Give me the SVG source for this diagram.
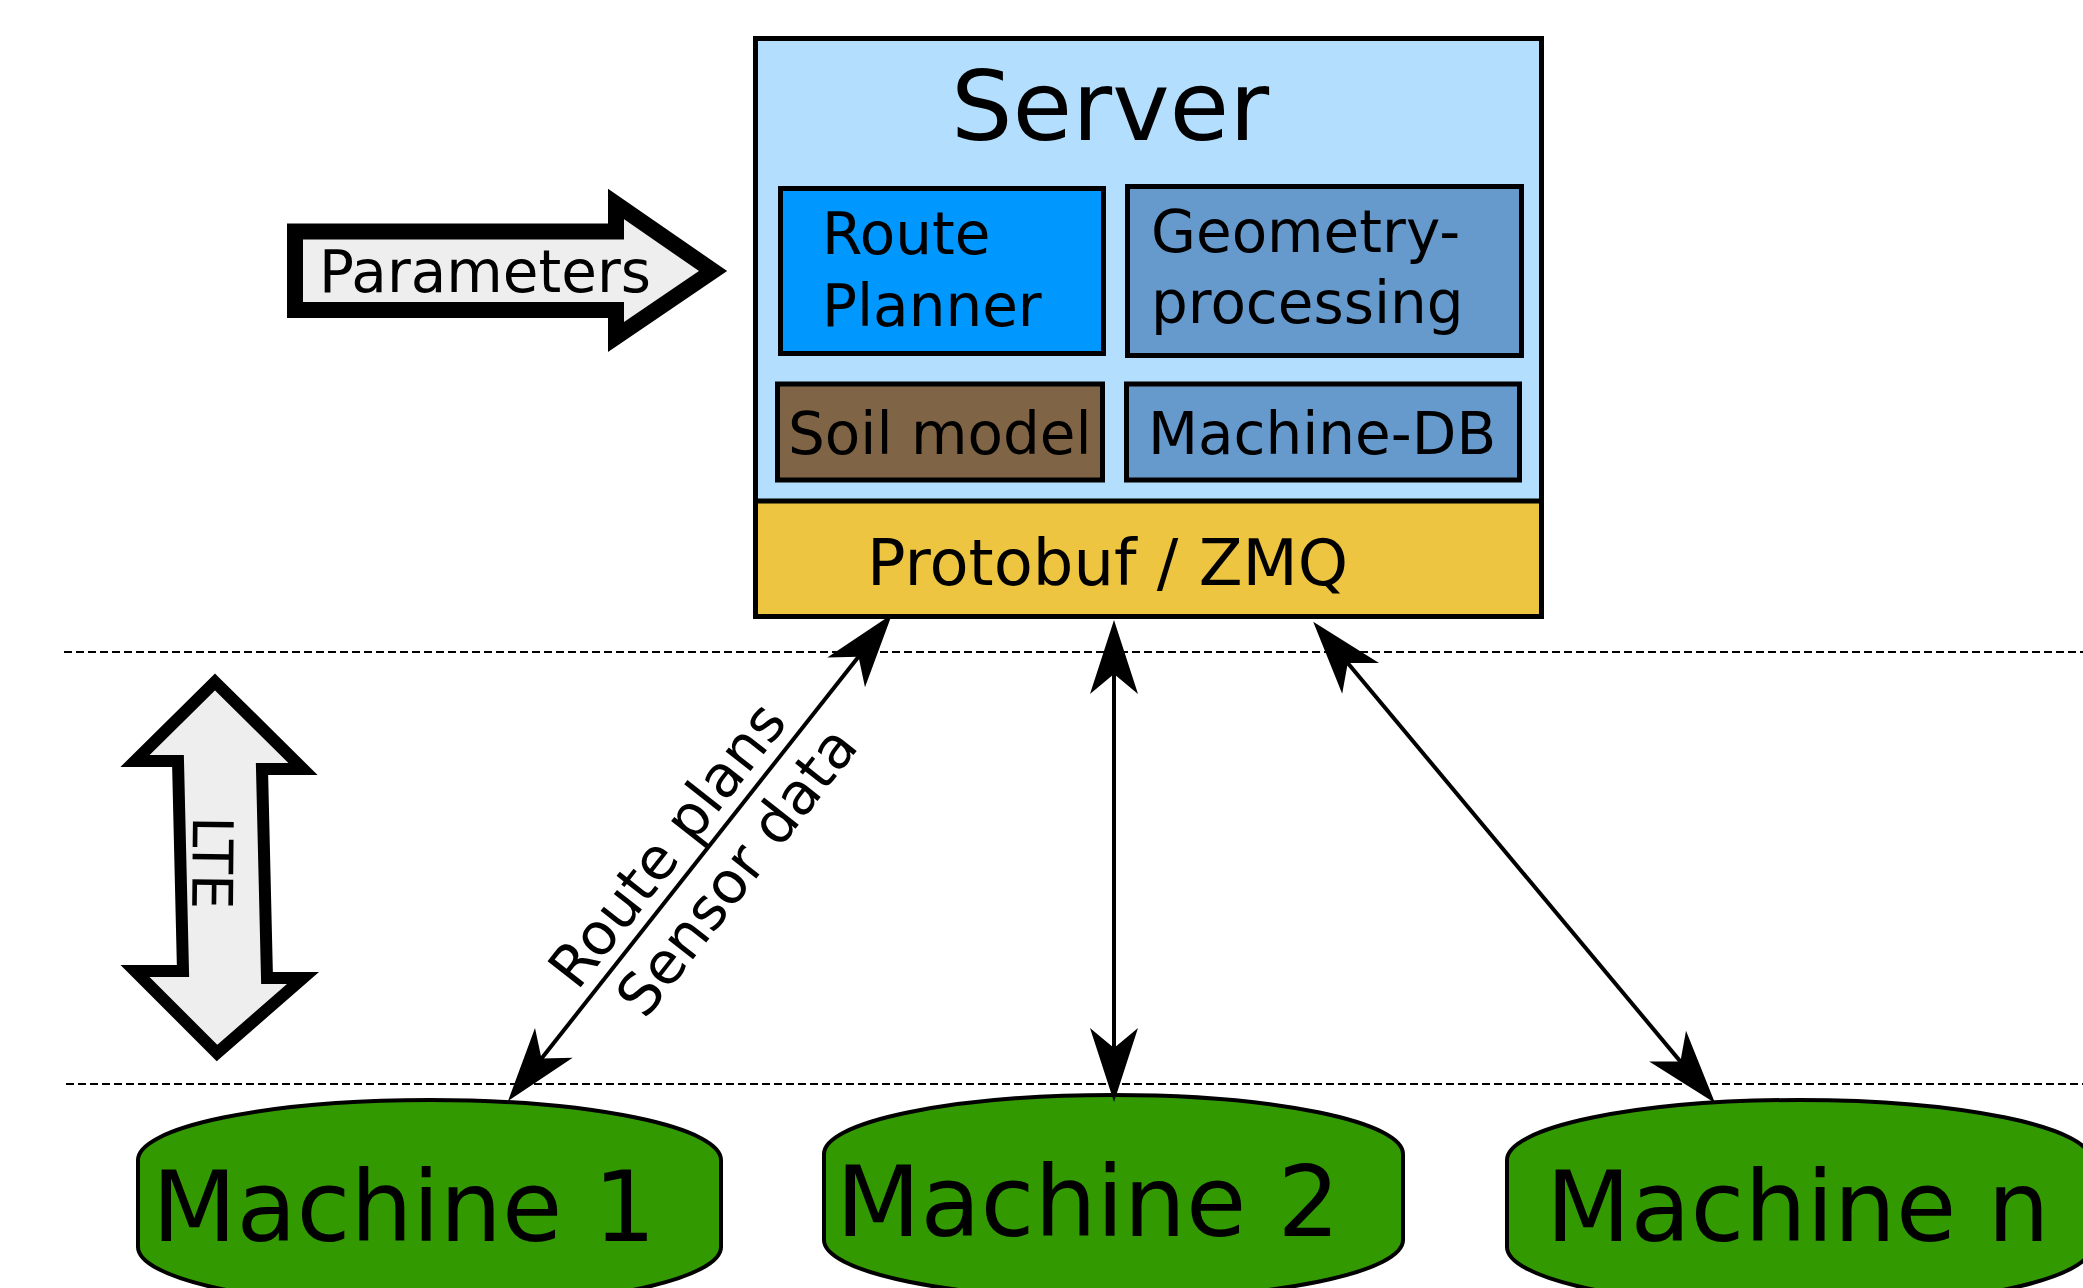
<svg xmlns="http://www.w3.org/2000/svg" width="2083" height="1288" viewBox="0 0 2083 1288">
<style>
  text { font-family: "DejaVu Sans", "Liberation Sans", sans-serif; fill: #000; }
  .box { stroke: #000; stroke-width: 5; }
  .t58 { font-size: 58px; }
  .machine { fill: #339900; stroke: #000; stroke-width: 4; }
  .mtext { font-size: 98px; }
  .bigarrow { fill: #eeeeee; stroke: #000; stroke-linejoin: miter; stroke-miterlimit: 10; }
  .dash { stroke: #000; stroke-width: 2; stroke-dasharray: 8 4; fill: none; }
  .conn { stroke: #000; stroke-width: 4; fill: none; marker-start: url(#ah); marker-end: url(#ah); }
</style>
<defs>
  <marker id="ah" viewBox="-60 -30 90 60" refX="0" refY="0" markerWidth="90" markerHeight="60" markerUnits="userSpaceOnUse" orient="auto-start-reverse">
    <path d="M20,0 L-54,-24 L-34,0 L-54,24 Z" fill="#000"/>
  </marker>
</defs>
<rect width="2083" height="1288" fill="#fff"/>

<g id="dividers">
  <line class="dash" x1="64" y1="652" x2="2083" y2="652"/>
  <line class="dash" x1="66" y1="1084" x2="2083" y2="1084"/>
</g>

<g id="server">
  <rect x="755.5" y="38.5" width="786" height="578" fill="#b3defd"/>
  <text x="951" y="140" font-size="97">Server</text>
</g>
<g id="protobuf">
  <rect x="755.5" y="501" width="786" height="115.5" fill="#edc540"/>
  <line x1="755.5" y1="501" x2="1541.5" y2="501" stroke="#000" stroke-width="5"/>
  <text x="867" y="585" font-size="64">Protobuf / ZMQ</text>
</g>
<rect x="755.5" y="38.5" width="786" height="578" fill="none" stroke="#000" stroke-width="5"/>

<g id="route-planner">
  <rect class="box" x="780.5" y="188.5" width="323" height="165" fill="#0097ff"/>
  <text class="t58" x="822" y="254">Route</text>
  <text class="t58" x="822" y="326">Planner</text>
</g>
<g id="geometry-processing">
  <rect class="box" x="1127.5" y="186.5" width="394" height="169" fill="#6699cc"/>
  <text class="t58" x="1151" y="252">Geometry-</text>
  <text class="t58" x="1151" y="323">processing</text>
</g>
<g id="soil-model">
  <rect class="box" x="777.5" y="384" width="325" height="96" fill="#7f6445"/>
  <text class="t58" x="788" y="454">Soil model</text>
</g>
<g id="machine-db">
  <rect class="box" x="1126.5" y="384" width="393" height="96" fill="#6699cc"/>
  <text class="t58" x="1148" y="454">Machine-DB</text>
</g>

<g id="parameters">
  <path class="bigarrow" stroke-width="16" d="M295,231.5 L616,231.5 L616,204 L713,271 L616,337 L616,310 L295,310 Z"/>
  <text class="t58" x="319" y="292">Parameters</text>
</g>

<g id="lte">
  <path class="bigarrow" stroke-width="12" d="M215,682 L303,769 L262,769 L267,978 L303,978 L217,1053 L135,971 L183,971 L178,761 L135,761 Z"/>
  <text transform="translate(193,816) rotate(90.6)" font-size="56">LTE</text>
</g>

<g id="machine-1">
  <path class="machine" d="M138,1160 A291.5,60 0 0 1 721,1160 L721,1247 A291.5,60 0 0 1 138,1247 Z"/>
  <text class="mtext" x="152" y="1241">Machine 1</text>
</g>
<g id="machine-2">
  <path class="machine" d="M824,1154 A289.5,59 0 0 1 1403,1154 L1403,1240 A289.5,59 0 0 1 824,1240 Z"/>
  <text class="mtext" x="836" y="1236">Machine 2</text>
</g>
<g id="machine-n">
  <path class="machine" d="M1507,1160 A292,60 0 0 1 2091,1160 L2091,1247 A292,60 0 0 1 1507,1247 Z"/>
  <text class="mtext" x="1546" y="1241">Machine n</text>
</g>

<g id="connectors">
  <line class="conn" x1="879.6" y1="630" x2="520.4" y2="1085.3"/>
  <line class="conn" x1="1114" y1="640" x2="1114" y2="1082"/>
  <line class="conn" x1="1326" y1="637" x2="1702.2" y2="1087.6"/>
  <g transform="translate(700,856.5) rotate(-51.85)">
    <text class="t58" x="-11" y="-13" text-anchor="middle">Route plans</text>
    <text class="t58" x="11" y="58" text-anchor="middle">Sensor data</text>
  </g>
</g>
</svg>
